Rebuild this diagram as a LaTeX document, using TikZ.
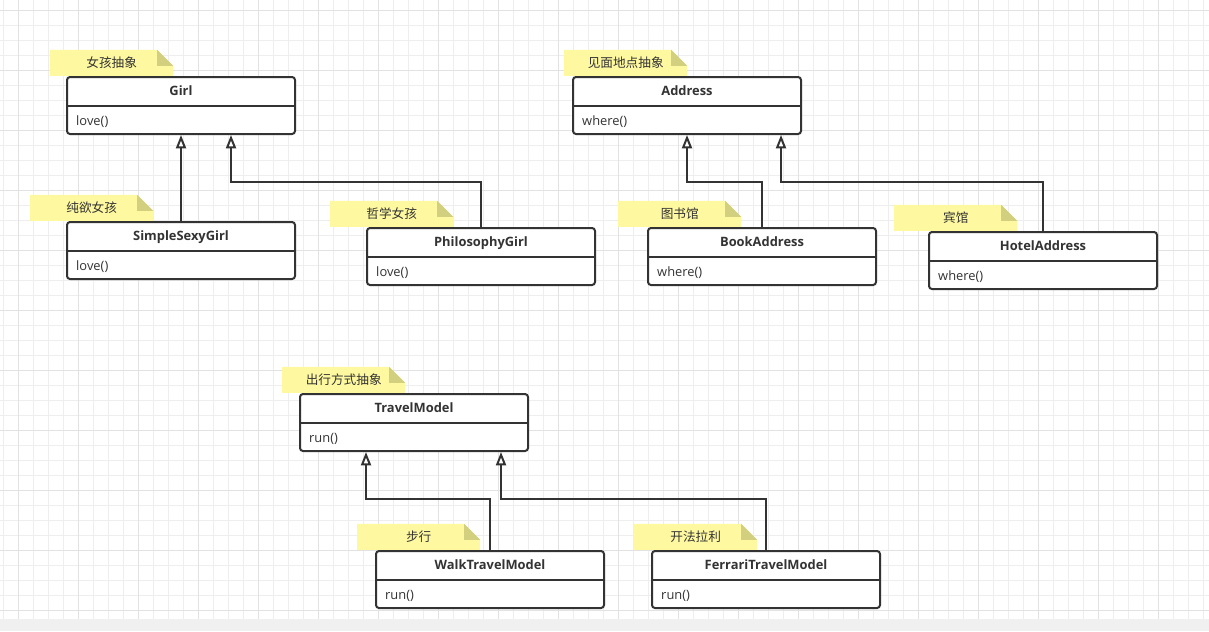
\documentclass[tikz,border=0pt]{standalone}
\usepackage{fontspec}
\setmainfont{Open Sans}
\newfontfamily\cjk{Noto Sans CJK SC}
\usetikzlibrary{arrows.meta}
\definecolor{linecol}{HTML}{333333}
\definecolor{notecol}{HTML}{FEF9A0}
\definecolor{foldcol}{HTML}{D2CF7E}
\definecolor{gridminor}{HTML}{EEEEEE}
\definecolor{gridmajor}{HTML}{E2E2E2}
\begin{document}
\begin{tikzpicture}[x=0.03cm,y=-0.03cm,
  every node/.style={text=linecol},
  umlbox/.style={draw=linecol,line width=0.06cm,rounded corners=0.09cm,fill=white,minimum width=6.84cm,minimum height=1.71cm,inner sep=0pt},
  umlline/.style={draw=linecol,line width=0.06cm},
  umltitle/.style={font=\fontsize{11}{13}\selectfont\bfseries,inner sep=0pt,anchor=base},
  umlmethod/.style={font=\fontsize{11}{13}\selectfont,inner sep=0pt,anchor=base west},
  note/.style={minimum width=3.69cm,minimum height=0.78cm,inner sep=0pt,font=\cjk\fontsize{10.8}{12}\selectfont,
    path picture={
      \fill[notecol] (path picture bounding box.south west) -- (path picture bounding box.north west) -- ++(107,0) -- ++(16,16) -- (path picture bounding box.south east) -- cycle;
      \fill[foldcol] (path picture bounding box.north west) ++(107,0) -- ++(0,16) -- ++(16,0) -- cycle;
    }},
  extends/.style={draw=linecol,line width=0.06cm,-{Triangle[length=0.4cm,width=0.3cm,fill=white]}}]
\useasboundingbox (0,0) rectangle (1209,631);
% background grid
\fill[white] (0,0) rectangle (1209,619);
\foreach \gx in {3,18,...,1209} \draw[gridminor,line width=0.03cm] (\gx,0) -- (\gx,619);
\foreach \gy in {10,25,...,619} \draw[gridminor,line width=0.03cm] (0,\gy) -- (1209,\gy);
\foreach \gx in {18,78,...,1209} \draw[gridmajor,line width=0.03cm] (\gx,0) -- (\gx,619);
\foreach \gy in {10,70,...,619} \draw[gridmajor,line width=0.03cm] (0,\gy) -- (1209,\gy);
\fill[gray!12] (0,619) rectangle (1209,631);
% classes: name/x/y/title/method/note/note offset
\foreach \n/\x/\y/\t/\m/\c/\o in {
  girl/66/76/Girl/love()/女孩抽象/16,
  addr/572/76/Address/where()/见面地点抽象/8,
  simple/66/221/SimpleSexyGirl/love()/纯欲女孩/36,
  phil/366/227/PhilosophyGirl/love()/哲学女孩/36,
  book/647/227/BookAddress/where()/图书馆/29,
  hotel/928/231/HotelAddress/where()/宾馆/34,
  travel/299/393/TravelModel/run()/出行方式抽象/17,
  walk/375/550/WalkTravelModel/run()/步行/18,
  ferrari/651/550/FerrariTravelModel/run()/开法拉利/17} {
  \node[note,anchor=south west] (\n-note) at (\x-\o,\y) {\c};
  \node[umlbox,anchor=north west] (\n) at (\x,\y) {};
  \draw[umlline] (\n.north west) ++(0,30) -- ++(228,0);
  \node[umltitle] (\n-title) at (\x+115,\y+19.5) {\t};
  \node[umlmethod] (\n-method) at (\x+10,\y+49.5) {\m};
}
% inheritance
\draw[extends] (simple.north) -- (girl.south);
\draw[extends] (phil.north) -- ++(0,-45) -| ([xshift=1.5cm]girl.south);
\draw[extends] (book.north) -- ++(0,-45) -| (addr.south);
\draw[extends] (hotel.north) -- ++(0,-49) -| ([xshift=2.82cm]addr.south);
\draw[extends] (walk.north) -- ++(0,-51) -| ([xshift=-1.44cm]travel.south);
\draw[extends] (ferrari.north) -- ++(0,-51) -| ([xshift=2.61cm]travel.south);
\end{tikzpicture}
\end{document}
